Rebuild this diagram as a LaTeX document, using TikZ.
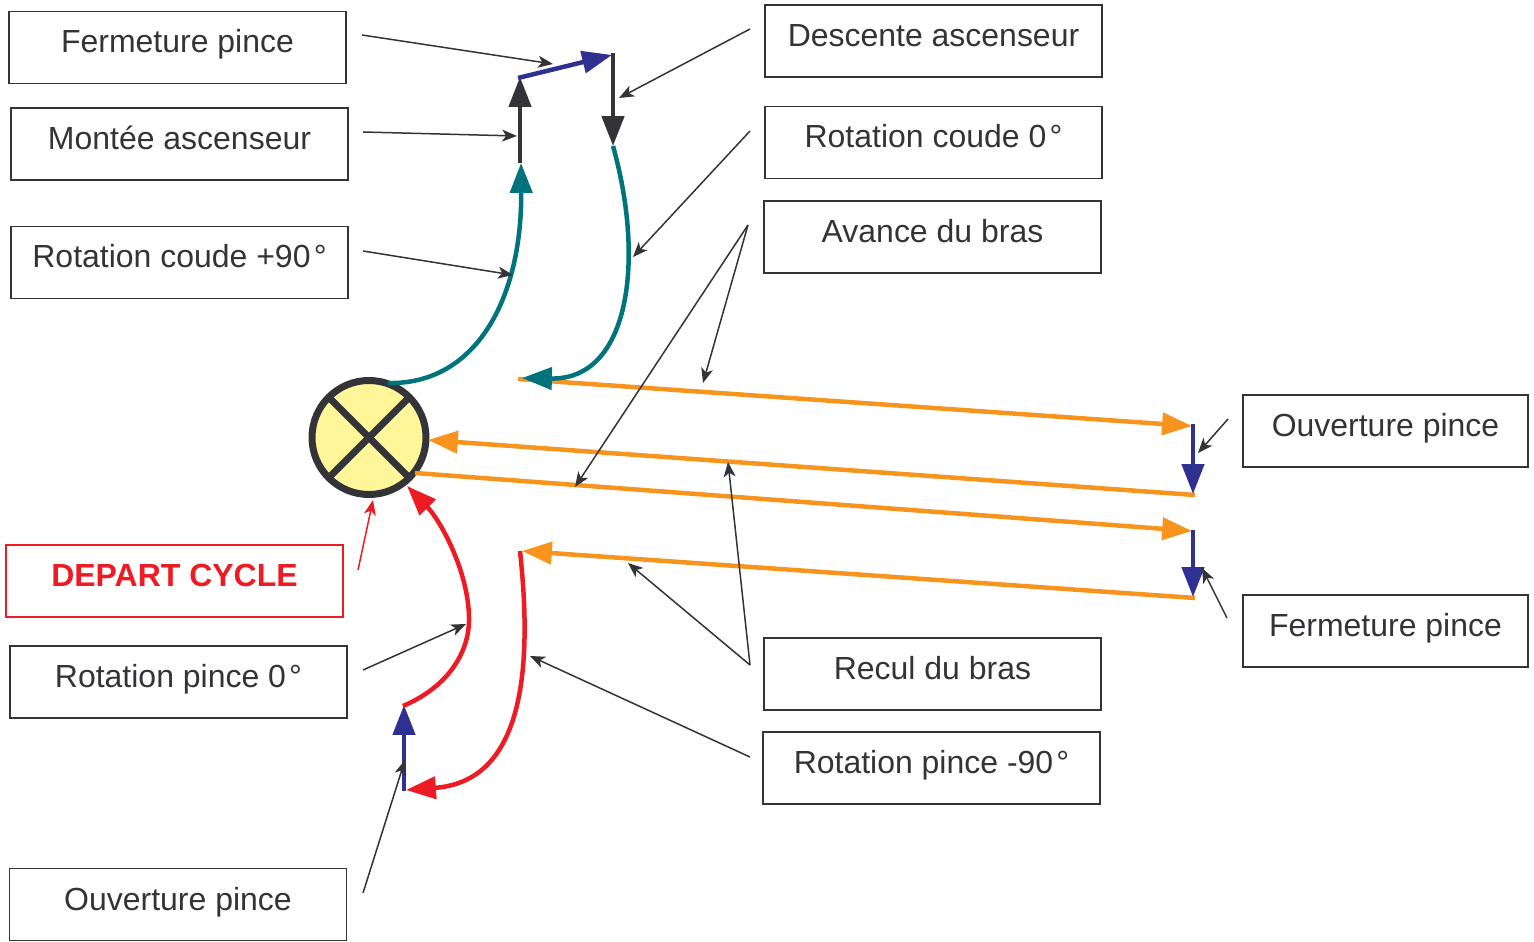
\documentclass[tikz,border=0pt]{standalone}
\usepackage{fontspec}
\setmainfont{Liberation Sans}
\usetikzlibrary{arrows.meta}
\definecolor{ink}{HTML}{333338}
\definecolor{cteal}{HTML}{00737C}
\definecolor{corange}{HTML}{F7941D}
\definecolor{cblue}{HTML}{2E3192}
\definecolor{cred}{HTML}{ED1C24}
\definecolor{cyellow}{HTML}{FFF699}
\newdimen\pxu \pxu=0.02cm
\newcommand\degsign{\kern0.1em°}
\begin{document}
\begin{tikzpicture}[x=0.02cm, y=-0.02cm,
  box/.style={draw=ink, line width=1.6*\pxu, text=ink,
    font=\fontsize{18.2}{22}\selectfont, inner sep=0pt,
    minimum width=337*\pxu, minimum height=72*\pxu,
    text height=24*\pxu, text depth=13*\pxu},
  flow/.style={line width=4.5*\pxu,
    -{Triangle[length=17pt, width=12.5pt]}},
  note/.style={draw=ink, line width=1.5*\pxu,
    -{Stealth[length=8.5pt, width=6.8pt, inset=2.3pt]}}]
\useasboundingbox (0,0) rectangle (1534,942);

% ---- labels ----
\node[box] (fermL)    at (177.5,47.5)  {Fermeture pince};
\node[box] (montee)   at (179.5,144)   {Montée ascenseur};
\node[box] (rotC90)   at (179.5,262.5) {Rotation coude +90\degsign};
\node[box, draw=cred, text=cred, font=\fontsize{18.2}{22}\selectfont\bfseries]
           (depart)   at (174.5,581)   {DEPART CYCLE};
\node[box] (rotP0)    at (178.5,682)   {Rotation pince 0\degsign};
\node[box] (ouvL)     at (178,904.5)   {Ouverture pince};
\node[box] (descente) at (933.5,41)    {Descente ascenseur};
\node[box] (rotC0)    at (933.5,142.5) {Rotation coude 0\degsign};
\node[box] (avance)   at (932.5,237)   {Avance du bras};
\node[box] (recul)    at (932.5,674)   {Recul du bras};
\node[box] (rotPm90)  at (931.5,768)   {Rotation pince -90\degsign};
\node[box, minimum width=285*\pxu] (ouvR)  at (1385.5,431) {Ouverture pince};
\node[box, minimum width=285*\pxu] (fermR) at (1385.5,631) {Fermeture pince};

% ---- start symbol ----
\node[circle, draw=ink, fill=cyellow, line width=7*\pxu, minimum size=114*\pxu,
      inner sep=0pt, outer sep=0pt] (start) at (369,437.5) {};
\draw[ink, line width=7*\pxu] (start.45) -- (start.225) (start.135) -- (start.-45);

% ---- path points ----
\coordinate (t1s) at (388,383);
\coordinate (t1e) at (521,163);
\coordinate (g1s) at (520,163);
\coordinate (g1e) at (520,77);
\coordinate (b1s) at (518,78);
\coordinate (b1e) at (612,55);
\coordinate (g2s) at (613,53);
\coordinate (g2e) at (613,146);
\coordinate (t2e) at (522,378);
\coordinate (o1s) at (518,379);
\coordinate (o1e) at (1192,426);
\coordinate (v1s) at (1193,424);
\coordinate (v1e) at (1193,494);
\coordinate (o2s) at (1195,495);
\coordinate (o2e) at (428,440);
\coordinate (o3s) at (415,473);
\coordinate (o3e) at (1192,531);
\coordinate (v2s) at (1193,530);
\coordinate (v2e) at (1193,597);
\coordinate (o4s) at (1195,598);
\coordinate (o4e) at (522,551);
\coordinate (r1s) at (520,551);
\coordinate (r1e) at (406,790);
\coordinate (v3s) at (404,791);
\coordinate (v3e) at (404,705);
\coordinate (r2s) at (403,706);
\coordinate (r2m) at (469,617);
\coordinate (r2e) at (407,486);

% ---- arm movements ----
\draw[flow, corange] (o1s) -- (o1e);
\draw[flow, corange] (o2s) -- (o2e);
\draw[flow, corange] (o3s) -- (o3e);
\draw[flow, corange] (o4s) -- (o4e);
\draw[flow, cblue] (v1s) -- (v1e);
\draw[flow, cblue] (v2s) -- (v2e);

\draw[flow, cteal] (t1s) .. controls (475,385) and (522,300) .. (t1e);
\draw[flow, ink] (g1s) -- (g1e);
\draw[flow, cblue] (b1s) -- (b1e);
\draw[flow, ink] (g2s) -- (g2e);
\draw[flow, cteal] (g2e) .. controls (645,260) and (630,380) .. (t2e);

\draw[flow, cred] (r1s) .. controls (535,690) and (515,782) .. (r1e);
\draw[flow, cblue] (v3s) -- (v3e);
\draw[flow, cred] (r2s) .. controls (450,686) and (470,650) .. (r2m)
                        .. controls (468,570) and (440,520) .. (r2e);

% ---- annotation arrows ----
\coordinate (n1) at (362,35);    \coordinate (m1) at (553,64);
\coordinate (n2) at (363,132);   \coordinate (m2) at (517,136);
\coordinate (n3) at (363,251);   \coordinate (m3) at (513,275);
\coordinate (n4) at (750,29);    \coordinate (m4) at (619,98);
\coordinate (n5) at (750,131);   \coordinate (m5) at (633,257);
\coordinate (n6) at (748,225);   \coordinate (m6a) at (703,383); \coordinate (m6b) at (575,487);
\coordinate (n7) at (1228,419);  \coordinate (m7) at (1198,453);
\coordinate (n8) at (1227,618);  \coordinate (m8) at (1202,568);
\coordinate (n9) at (750,665);   \coordinate (m9a) at (728,462); \coordinate (m9b) at (628,563);
\coordinate (n10) at (750,757);  \coordinate (m10) at (530,656);
\coordinate (n11) at (363,670);  \coordinate (m11) at (466,624);
\coordinate (n12) at (363,893);  \coordinate (m12) at (405,760);
\coordinate (n13) at (358,570);  \coordinate (m13) at (373,500);

\draw[note] (n1) -- (m1);
\draw[note] (n2) -- (m2);
\draw[note] (n3) -- (m3);
\draw[note] (n4) -- (m4);
\draw[note] (n5) -- (m5);
\draw[note] (n6) -- (m6a);
\draw[note] (n6) -- (m6b);
\draw[note] (n7) -- (m7);
\draw[note] (n8) -- (m8);
\draw[note] (n9) -- (m9a);
\draw[note] (n9) -- (m9b);
\draw[note] (n10) -- (m10);
\draw[note] (n11) -- (m11);
\draw[note] (n12) -- (m12);
\draw[note, draw=cred, fill=cred] (n13) -- (m13);
\end{tikzpicture}
\end{document}
